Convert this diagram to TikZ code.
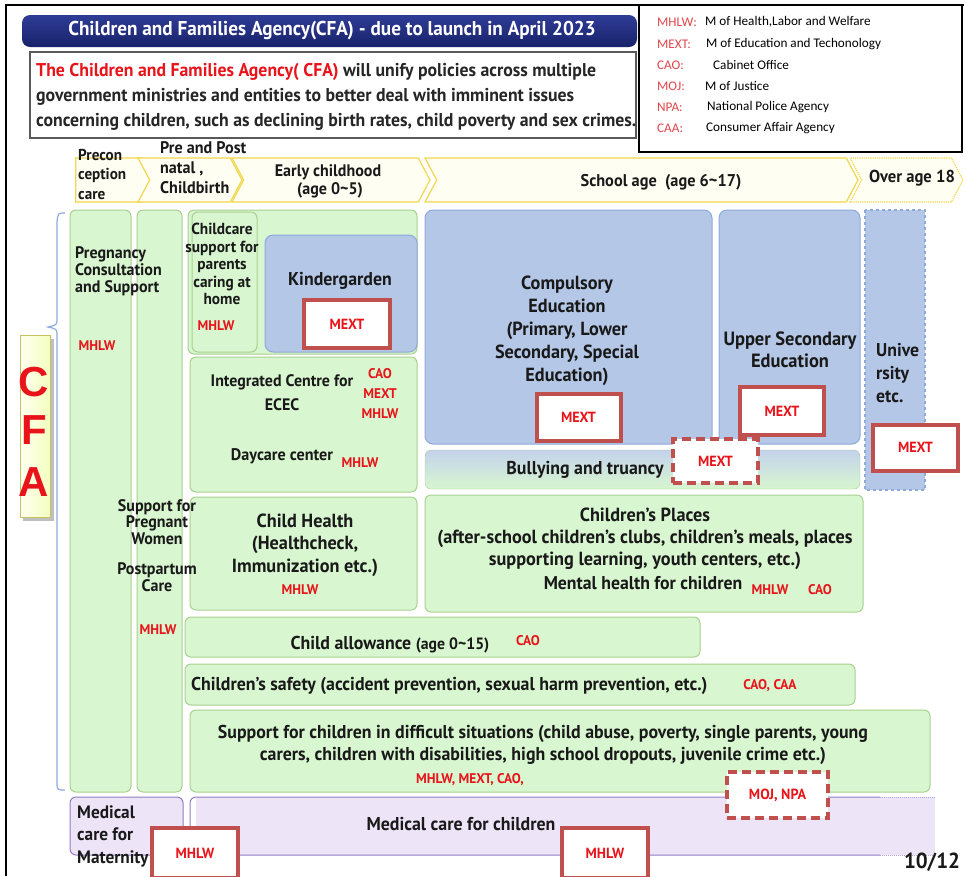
\documentclass[tikz,border=0pt]{standalone}
\usepackage{fontspec}
\setmainfont{PT Sans}[FakeStretch=0.96]
\newfontfamily\legfont{Carlito}
\newfontfamily\cfafont{Liberation Sans}
\usetikzlibrary{shapes.symbols}
\definecolor{grnfill}{HTML}{D8F6D0}
\definecolor{grnline}{HTML}{A9D08E}
\definecolor{blufill}{HTML}{B4C7E7}
\definecolor{bluline}{HTML}{8EA9DB}
\definecolor{purfill}{HTML}{EEE4F8}
\definecolor{purline}{HTML}{8E7CC3}
\definecolor{redline}{HTML}{C0504D}
\definecolor{mred}{HTML}{E8141A}
\definecolor{legred}{HTML}{E0454A}
\definecolor{yelline}{HTML}{F2D64B}
\definecolor{yelfill}{HTML}{FFFEF2}
\definecolor{navytop}{HTML}{2F3C96}
\definecolor{navybot}{HTML}{18226A}
\newcommand\setfs[2]{\fontsize{#1}{#2}\selectfont}

\begin{document}
\begin{tikzpicture}[x=1pt,y=-1pt,
  gbox/.style={draw=grnline,fill=grnfill,line width=1pt,rounded corners=6pt},
  bbox/.style={draw=bluline,fill=blufill,line width=1pt,rounded corners=8pt},
  pbox/.style={draw=purline,fill=purfill,line width=1pt,rounded corners=6pt},
  mbox/.style={draw=redline,line width=4pt,fill=white,text=mred,font=\setfs{14.7}{16}\bfseries,inner sep=0},
  mdash/.style={mbox,dash pattern=on 9pt off 5pt},
  stage/.style={signal,signal to=east,signal from=west,signal pointer angle=124,
    draw=yelline,fill=yelfill,line width=1.2pt,inner sep=0,minimum height=44},
  txt/.style={font=\setfs{18.6}{22}\bfseries,align=center,inner sep=0,text=black!90},
  stxt/.style={font=\setfs{16.7}{16.8}\bfseries,align=center,inner sep=0,text=black!90},
  ag/.style={text=mred,font=\setfs{14}{20}\bfseries,align=center,inner sep=0},
  leg/.style={font=\legfont\setfs{13.2}{16},inner sep=0,anchor=west}]
\useasboundingbox (0,0) rectangle (966,876);

\draw[line width=1.2pt] (6,876) -- (6,5) -- (964,5);
\draw[line width=1.5pt,fill=white] (639,5) rectangle (962,152);
\foreach \ab/\tx/\xx/\yy in {MHLW:/{M of Health,Labor and Welfare}/705/22,
    MEXT:/M of Education and Techonology/706/44, CAO:/Cabinet Office/713/65,
    MOJ:/M of Justice/705/86, NPA:/National Police Agency/707/107,
    CAA:/Consumer Affair Agency/706/128}{
  \node[leg,text=legred] at (657,\yy) {\ab};
  \node[leg] at (\xx,\yy) {\tx};
}

\shade[top color=navytop,bottom color=navybot,rounded corners=8pt] (22,15) rectangle (637,47);
\node[font=\setfs{20}{24}\bfseries,text=white] (title) at (332,31)
  {Children and Families Agency(CFA) - due to launch in April 2023};
\draw[black!65,line width=1.2pt,fill=white] (30,52) rectangle (636,138);
\node[font=\setfs{18.5}{25}\bfseries,align=left,anchor=west,inner sep=0,text=black!85] (desc) at (36,97)
  {\textcolor{mred}{The Children and Families Agency( CFA)} will unify policies across multiple\\
   government ministries and entities to better deal with imminent issues\\
   concerning children, such as declining birth rates, child poverty and sex crimes.};

\node[stage,signal from=nowhere,minimum width=78] (s1) at (109,180) {};
\node[stage,minimum width=104] (s2) at (190,180) {};
\node[stage,minimum width=198] (s3) at (331,180) {};
\node[stage,minimum width=433] (s4) at (641.5,180) {};
\node[stage,densely dotted,minimum width=113] (s5) at (906.5,180) {};
\node[stxt,font=\setfs{15.8}{19.5}\bfseries,align=left,anchor=west] at (78,174) {Precon\\ception\\care};
\node[stxt,font=\setfs{16.8}{20}\bfseries,align=left,anchor=west] at (160,168) {Pre and Post\\natal ,\\Childbirth};
\node[stxt,font=\setfs{16.7}{18}\bfseries] at (328,181) {Early childhood\\\ (age 0\textasciitilde5)};
\node[stxt,font=\setfs{17}{18}\bfseries] at (661,182) {School age\ \ (age 6\textasciitilde17)};
\node[stxt,font=\setfs{17.3}{18}\bfseries] at (912,178) {Over age 18};

\draw[bluline,line width=1.2pt] (65,213) .. controls (58,213) .. (57,222) -- (57,318)
  .. controls (57,325) .. (48,327) .. controls (57,329) .. (57,336) -- (57,782) .. controls (57,790) .. (65,790);
\fill[black!25] (23,339) rectangle (54,521);
\shade[left color=yellow!6,right color=green!20!yellow!25,draw=olive!50] (20,335) rectangle (50,517);
\foreach \l/\yy in {C/382,F/430,A/482}
  \node[text=mred,font=\cfafont\setfs{42}{44}\bfseries,inner sep=0] at (34,\yy) {\l};

\draw[gbox] (70,210) rectangle (131,792);
\draw[gbox] (137,210) rectangle (182,792);
\node[stxt,align=left,anchor=west] (preg) at (75,271) {Pregnancy\\Consultation\\and Support};
\node[ag] at (97,346) {MHLW};
\node[ag] at (158,630) {MHLW};

\draw[gbox] (188,210) rectangle (417,354);
\draw[gbox] (192,212) rectangle (257,352);
\node[stxt,font=\setfs{16}{17.4}\bfseries] (care) at (222,264) {Childcare\\support for\\parents\\caring at\\home};
\node[ag] at (216,326) {MHLW};
\draw[bbox] (265,235) rectangle (417,352);
\node[txt] (kind) at (340,281) {Kindergarden};
\node[mbox,minimum width=86,minimum height=48] (kmext) at (347,324) {MEXT};

\draw[gbox] (190,357) rectangle (417,492);
\node[txt,font=\setfs{16.6}{24}\bfseries] (ecec) at (282,393) {Integrated Centre for\\ECEC};
\node[ag] at (380,394) {CAO\\MEXT\\MHLW};
\node[txt,font=\setfs{16.8}{20}\bfseries] (day) at (282,456) {Daycare center};
\node[ag] at (360,463) {MHLW};

\draw[bbox] (425,210) rectangle (712,444);
\node[txt,font=\setfs{19}{23}\bfseries] (comp) at (567,331) {Compulsory\\Education\\(Primary, Lower\\Secondary, Special\\Education)};
\node[mbox,minimum width=84,minimum height=47] (cmext) at (578.5,417) {MEXT};
\draw[bbox] (719,210) rectangle (860,444);
\node[txt,font=\setfs{19.2}{22}\bfseries] (upper) at (790,350) {Upper Secondary\\Education};
\node[mbox,minimum width=84,minimum height=48] (umext) at (782,411) {MEXT};
\draw[bluline,dashed,line width=1.2pt,fill=blufill] (865,210) rectangle (925,490);
\node[txt,font=\setfs{18.5}{23}\bfseries,align=left,anchor=west] (univ) at (876,373) {Unive\\rsity\\etc.};
\node[mbox,minimum width=85,minimum height=46] (vmext) at (915.5,447.5) {MEXT};

\shade[top color=blufill!80,bottom color=grnfill,draw=grnline,rounded corners=6pt] (425,450) rectangle (860,489);
\node[txt] (bully) at (585,470) {Bullying and truancy};
\node[mdash,minimum width=85,minimum height=44] (bmext) at (715.5,461) {MEXT};

\draw[gbox] (190,497) rectangle (417,610);
\node[txt,font=\setfs{19}{22.5}\bfseries] (health) at (305,545) {Child Health\\(Healthcheck,\\Immunization etc.)};
\node[ag] at (300,590) {MHLW};
\node[stxt] (supp) at (157,522) {Support for\\Pregnant\\Women};
\node[stxt] (post) at (157,577) {Postpartum\\Care};
\draw[gbox] (425,495) rectangle (863,612);
\node[txt,font=\setfs{19}{22}\bfseries] (places) at (645,539) {Children's Places\\(after-school children's clubs, children's meals, places\\supporting learning, youth centers, etc.)};
\node[txt,font=\setfs{18.5}{22}\bfseries] (mental) at (643,583) {Mental health for children};
\node[ag] at (770,590) {MHLW};
\node[ag] at (820,590) {CAO};

\draw[gbox] (185,617) rectangle (700,657);
\node[txt] (allow) at (390,645) {Child allowance {\setfs{16.4}{18}(age 0\textasciitilde15)}};
\node[ag] at (528,641) {CAO};
\draw[gbox] (185,664) rectangle (855,705);
\node[txt,anchor=west] (safe) at (191,686) {Children's safety (accident prevention, sexual harm prevention, etc.)};
\node[ag] at (770,686) {CAO, CAA};
\draw[gbox] (190,710) rectangle (930,792);
\node[txt] (diff) at (543,745) {Support for children in difficult situations (child abuse, poverty, single parents, young\\carers, children with disabilities, high school dropouts, juvenile crime etc.)};
\node[ag] at (470,780) {MHLW,\ MEXT,\ CAO,};

\draw[pbox] (70,797) rectangle (183,855);
\node[txt,font=\setfs{18}{22.5}\bfseries,align=left,anchor=west] (mater) at (77,836) {Medical\\care for\\Maternity};
\fill[purfill] (196,797) rectangle (935,855);
\draw[purline,line width=1pt,rounded corners=6pt] (880,797) -- (190,797) -- (190,855) -- (880,855);
\draw[purline!70,densely dotted,line width=1pt] (880,797) -- (935,797) (880,855) -- (935,855);
\node[txt] (child) at (461,824) {Medical care for children};
\node[mdash,minimum width=101,minimum height=46] (moj) at (777.5,795) {MOJ, NPA};
\node[mbox,minimum width=86,minimum height=50] (mmhlw) at (195,853) {MHLW};
\node[mbox,minimum width=86,minimum height=50] (cmhlw) at (605,853) {MHLW};
\node[txt,font=\setfs{21.8}{22}\bfseries] (page) at (932,862) {10/12};
\end{tikzpicture}
\end{document}
